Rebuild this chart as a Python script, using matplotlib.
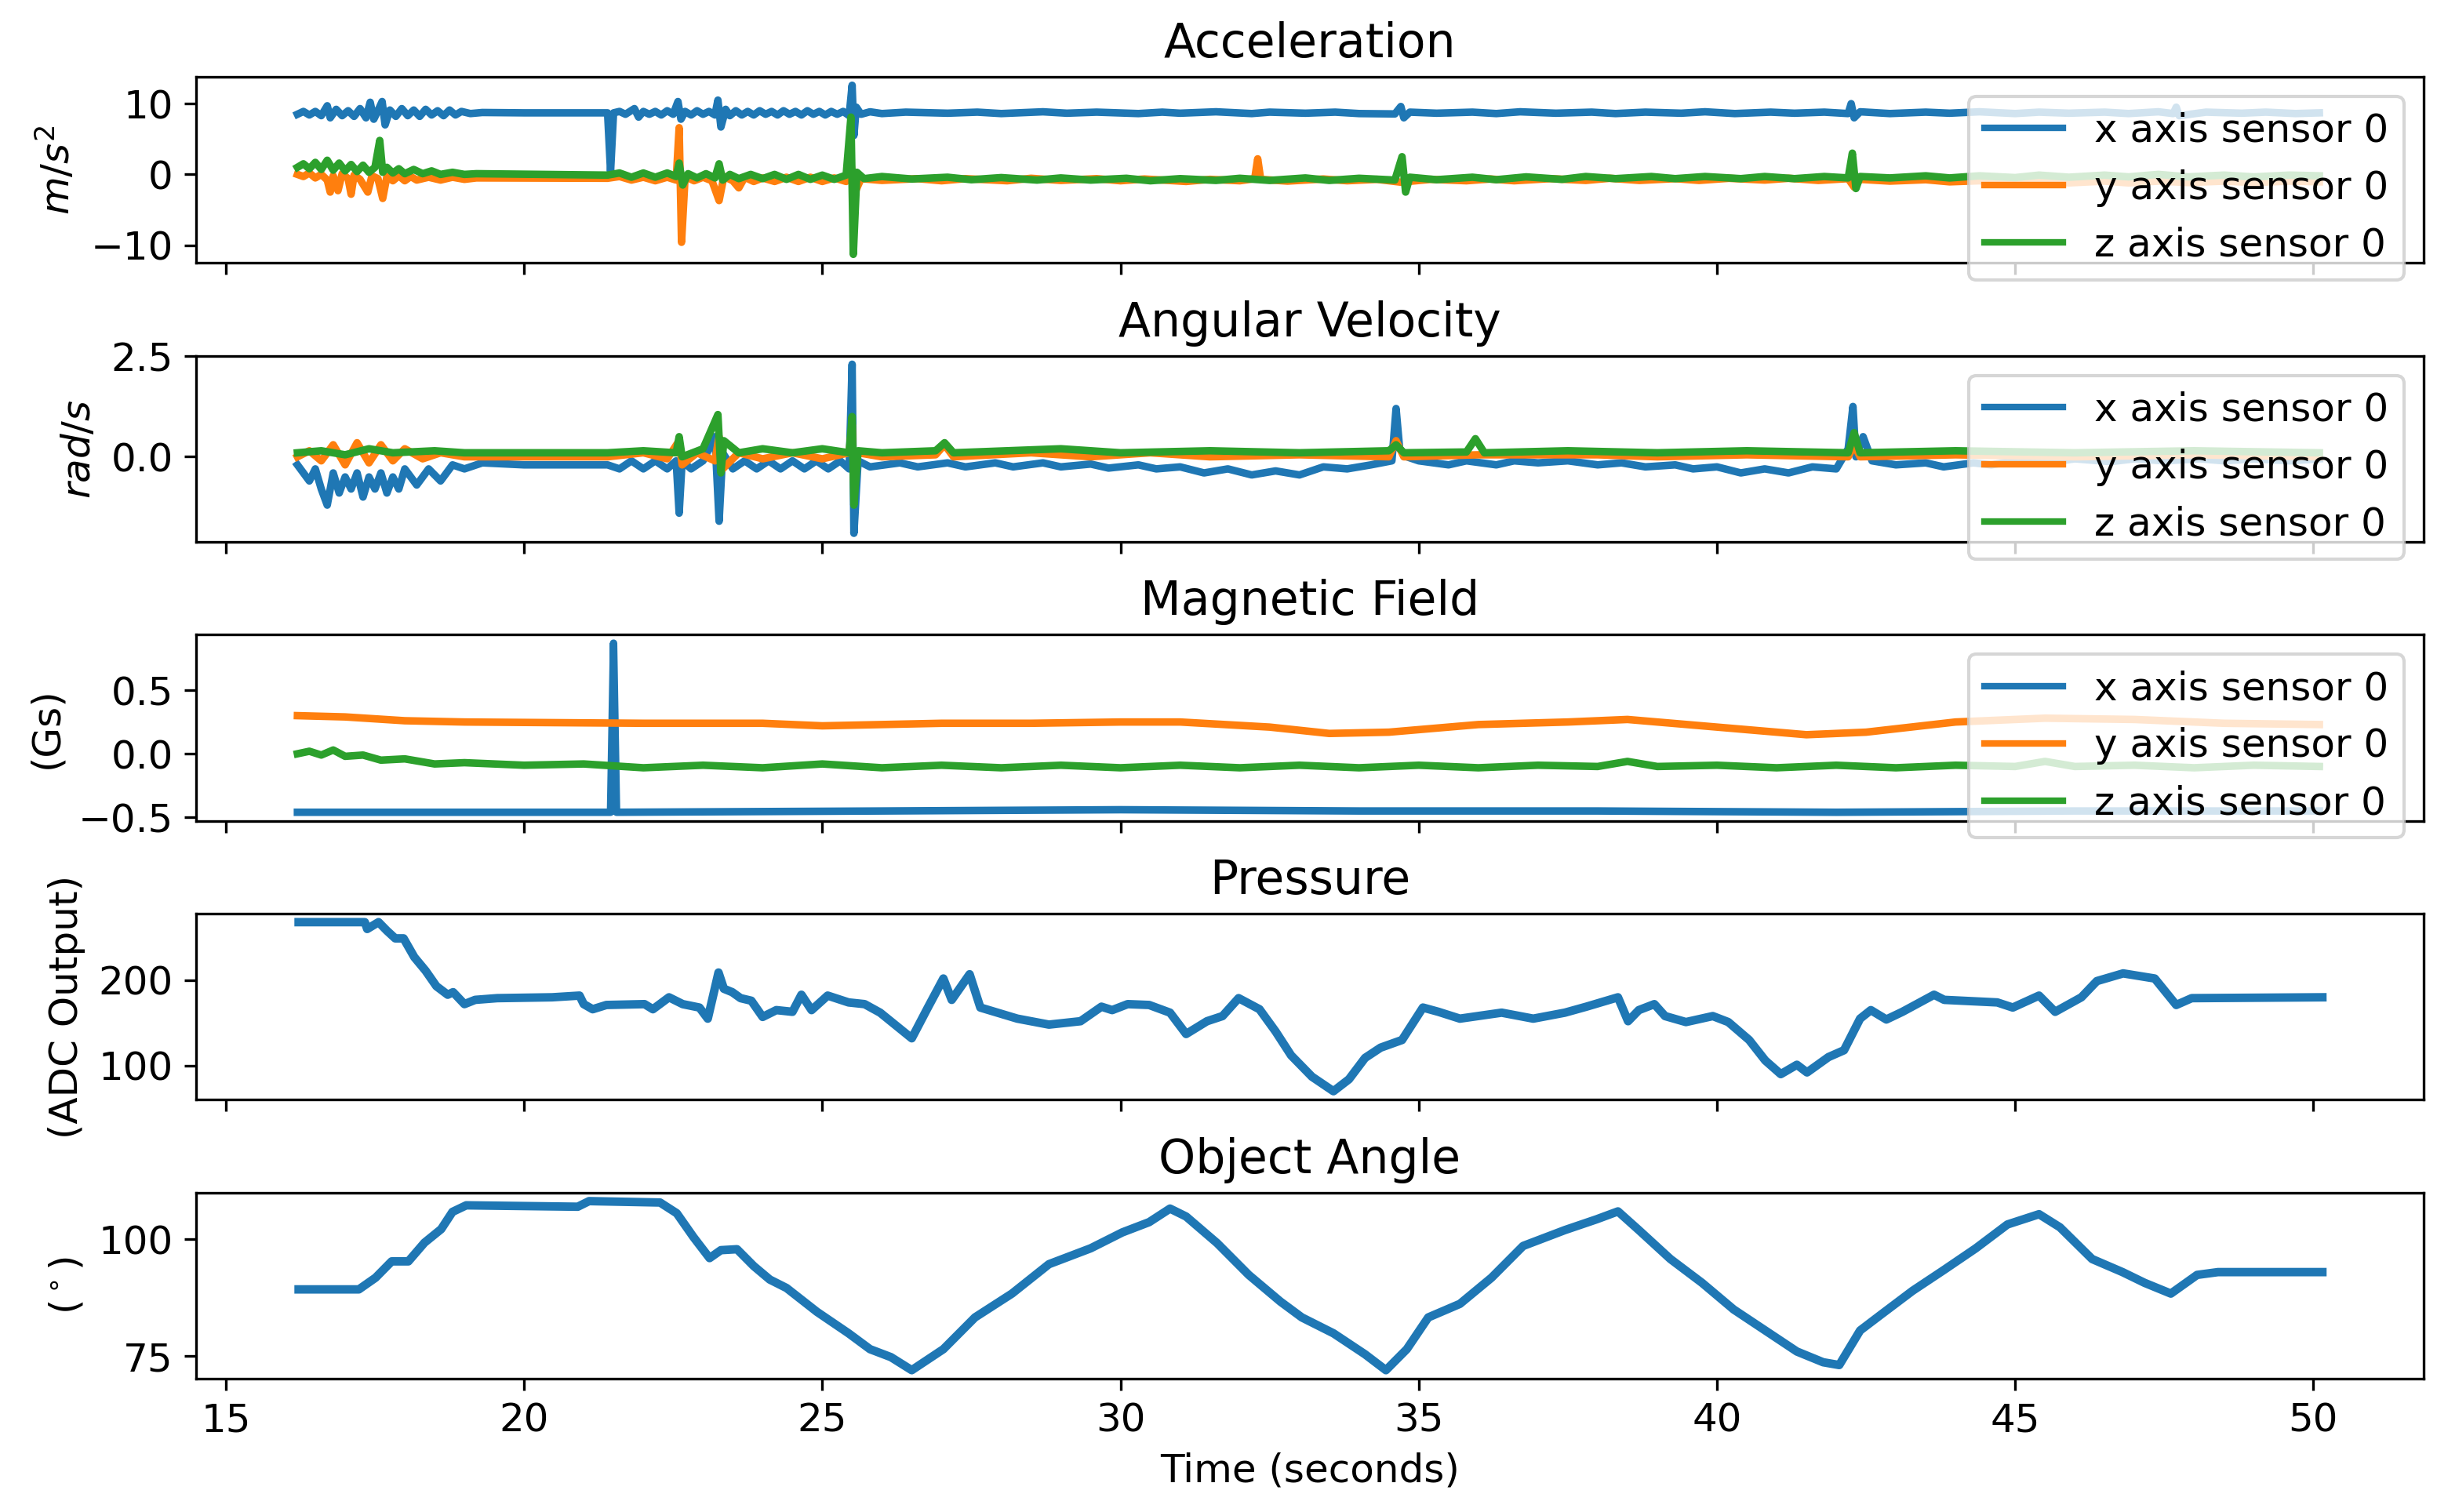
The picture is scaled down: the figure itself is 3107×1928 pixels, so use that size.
import matplotlib
matplotlib.use("Agg")
import matplotlib.pyplot as plt

plt.rcParams['font.size'] = 12

# ---------------- data ----------------
# Acceleration (m/s^2)
acc_x_t = [16.2, 16.3, 16.4, 16.5, 16.6, 16.7, 16.75, 16.85, 16.95, 17.05, 17.15, 17.25, 17.35, 17.42, 17.48,
           17.55, 17.62, 17.67, 17.75, 17.85, 17.95, 18.05, 18.15, 18.25, 18.35, 18.45, 18.55, 18.65, 18.75,
           18.85, 18.95, 19.1, 19.3, 20.0, 21.0, 21.4, 21.45, 21.5, 21.6, 21.7, 21.85, 21.92, 22.0, 22.1, 22.2,
           22.3, 22.4, 22.5, 22.58, 22.63, 22.7, 22.8, 22.9, 23.0, 23.1, 23.2, 23.25, 23.3, 23.38, 23.45, 23.55,
           23.65, 23.75, 23.85, 23.95, 24.05, 24.15, 24.25, 24.35, 24.45, 24.55, 24.65, 24.75, 24.85, 24.95,
           25.05, 25.15, 25.25, 25.35, 25.45, 25.5, 25.53, 25.57, 25.65, 25.8, 26.0, 26.4, 27.1, 27.6, 28.0,
           28.7, 29.1, 29.6, 30.3, 30.7, 31.0, 31.6, 32.2, 32.5, 33.1, 33.6, 34.0, 34.6, 34.7, 34.75, 34.85,
           35.3, 35.9, 36.3, 36.7, 37.3, 37.9, 38.3, 38.8, 39.4, 39.8, 40.3, 40.9, 41.3, 41.8, 42.2, 42.25,
           42.3, 42.4, 42.9, 43.5, 43.9, 44.4, 45.0, 45.4, 45.9, 46.5, 46.9, 47.4, 47.65, 47.7, 47.75, 48.2,
           48.8, 49.2, 49.7, 50.1]
acc_x_v = [8.5, 8.9, 8.4, 8.9, 8.3, 9.7, 8.0, 9.2, 8.3, 9.0, 8.2, 9.3, 8.0, 10.2, 7.8,
           9.0, 10.3, 7.0, 9.1, 8.2, 9.3, 8.3, 9.1, 8.2, 9.2, 8.4, 9.0, 8.3, 9.1,
           8.4, 8.9, 8.6, 8.75, 8.7, 8.7, 8.7, 0.4, 8.7, 8.9, 8.5, 9.3, 8.1, 8.9, 8.5, 8.9,
           8.4, 9.0, 8.5, 10.3, 7.8, 8.9, 8.4, 9.0, 8.5, 8.9, 8.4, 10.5, 6.7, 9.2, 8.3, 9.0,
           8.4, 8.9, 8.4, 9.0, 8.5, 8.9, 8.4, 9.0, 8.5, 8.9, 8.4, 9.0, 8.5, 8.9,
           8.4, 8.9, 8.5, 8.9, 8.3, 12.6, 5.5, 9.5, 8.5, 8.85, 8.6, 8.8, 8.65, 8.8, 8.6,
           8.85, 8.65, 8.8, 8.6, 8.8, 8.65, 8.85, 8.6, 8.8, 8.65, 8.8, 8.6, 8.55, 9.6, 8.0, 8.8,
           8.65, 8.8, 8.6, 8.85, 8.65, 8.8, 8.6, 8.8, 8.65, 8.85, 8.6, 8.8, 8.65, 8.8, 8.6, 10.0,
           8.0, 8.85, 8.6, 8.8, 8.65, 8.85, 8.6, 8.8, 8.65, 8.8, 8.6, 8.85, 8.6, 9.5,
           8.3, 8.8, 8.65, 8.8, 8.6, 8.7]
acc_y_t = [16.2, 16.3, 16.4, 16.5, 16.6, 16.7, 16.75, 16.8, 16.88, 16.95, 17.05, 17.1, 17.15, 17.25, 17.38,
           17.45, 17.55, 17.63, 17.7, 17.8, 17.9, 18.0, 18.1, 18.2, 18.4, 18.6, 18.8, 19.0, 19.2, 21.4, 21.6,
           21.8, 22.0, 22.2, 22.4, 22.55, 22.6, 22.64, 22.7, 22.85, 23.0, 23.15, 23.27, 23.35, 23.5, 23.6, 23.7,
           23.85, 24.0, 24.2, 24.4, 24.6, 24.8, 25.0, 25.2, 25.4, 25.48, 25.55, 25.65, 26.0, 26.6, 27.0, 27.4,
           28.1, 28.5, 29.0, 29.6, 30.0, 30.4, 31.1, 31.5, 32.0, 32.25, 32.3, 32.35, 32.8, 33.4, 33.8, 34.3,
           34.7, 35.2, 35.8, 36.2, 36.6, 37.2, 37.8, 38.2, 38.7, 39.3, 39.7, 40.2, 40.8, 41.2, 41.7, 42.2,
           42.3, 42.4, 42.9, 43.5, 43.9, 44.4, 45.0, 45.4, 45.9, 46.5, 46.9, 47.4, 47.9, 48.5, 49.0, 49.6, 50.1]
acc_y_v = [0.0, -0.3, 0.2, -0.5, 0.0, -0.8, -2.5, -0.2, -2.3, 0.1, -0.6, -2.8, -0.1, -0.7, -2.5,
           -0.2, -0.6, -3.4, -0.3, -0.9, -0.2, -0.9, -0.3, -0.8, -0.4, -0.8, -0.4, -0.7, -0.5, -0.55, -0.3,
           -0.8, -0.4, -0.9, -0.4, -0.8, 6.6, -9.6, -0.3, -0.9, -0.4, -0.9, -3.7, -0.3, -0.9, -1.9, -0.4,
           -1.0, -0.5, -1.0, -0.4, -1.0, -0.4, -1.0, -0.5, -1.0, 1.5, -2.5, -0.6, -0.85, -0.6, -0.9, -0.6,
           -0.9, -0.55, -0.85, -0.6, -0.9, -0.65, -1.0, -0.7, -0.9, -0.6, 2.2, -0.7, -0.95, -0.65, -0.9, -0.7,
           -1.1, -0.7, -0.9, -0.65, -0.9, -0.6, -0.85, -0.55, -0.85, -0.6, -0.85, -0.55, -0.8, -0.55, -0.85, -0.6,
           -1.8, -0.7, -0.95, -0.75, -1.05, -0.9, -1.15, -0.95, -1.2, -0.95, -1.2, -0.95, -1.15, -0.95, -1.15, -0.95, -1.05]
acc_z_t = [16.2, 16.3, 16.4, 16.5, 16.6, 16.7, 16.8, 16.9, 17.0, 17.1, 17.2, 17.3, 17.4, 17.5, 17.58, 17.63,
           17.7, 17.8, 17.9, 18.0, 18.15, 18.3, 18.45, 18.6, 18.8, 19.0, 19.2, 21.4, 21.6, 21.8, 22.0, 22.2,
           22.4, 22.55, 22.6, 22.66, 22.75, 22.9, 23.05, 23.2, 23.27, 23.33, 23.45, 23.6, 23.8, 24.0, 24.2,
           24.4, 24.6, 24.8, 25.0, 25.2, 25.4, 25.48, 25.52, 25.58, 25.7, 26.0, 26.5, 27.1, 27.5, 28.0, 28.6,
           29.0, 29.5, 30.1, 30.5, 31.0, 31.6, 32.0, 32.5, 33.1, 33.5, 34.0, 34.6, 34.72, 34.78, 34.85, 35.3,
           35.9, 36.3, 36.8, 37.4, 37.8, 38.3, 38.9, 39.3, 39.8, 40.4, 40.8, 41.3, 41.8, 42.2, 42.27, 42.33,
           42.4, 42.9, 43.5, 43.9, 44.4, 45.0, 45.4, 45.9, 46.5, 46.9, 47.4, 47.9, 48.5, 49.0, 49.6, 50.1]
acc_z_v = [1.0, 1.5, 0.8, 1.7, 0.7, 2.0, 0.6, 1.6, 0.5, 1.4, 0.4, 1.3, 0.3, 1.0, 4.8, 0.3,
           1.0, 0.2, 0.8, 0.1, 0.7, 0.1, 0.5, 0.0, 0.3, 0.0, 0.1, -0.1, 0.2, -0.4, 0.2, -0.4,
           0.2, -0.3, 1.6, -1.5, 0.1, -0.5, 0.1, -0.5, 1.5, -0.8, 0.0, -0.6, 0.0, -0.6, 0.0,
           -0.7, 0.0, -0.7, -0.1, -0.7, -0.1, 8.1, -11.3, 0.3, -0.6, -0.3, -0.65, -0.4, -0.75, -0.45, -0.8,
           -0.5, -0.8, -0.55, -0.9, -0.6, -0.85, -0.55, -0.85, -0.5, -0.85, -0.55, -0.8, 2.5, -2.5, -0.4, -0.75,
           -0.4, -0.75, -0.35, -0.7, -0.3, -0.6, -0.3, -0.6, -0.3, -0.6, -0.3, -0.6, -0.3, -0.5, 3.0, -2.0,
           -0.3, -0.5, -0.2, -0.5, -0.2, -0.45, -0.1, -0.4, -0.1, -0.35, 0.0, -0.35, -0.1, -0.35, -0.1, -0.2]

# Angular velocity (rad/s)
gyr_x_t = [16.2, 16.3, 16.4, 16.5, 16.6, 16.7, 16.8, 16.9, 17.0, 17.1, 17.2, 17.3, 17.4, 17.5, 17.6, 17.7,
           17.8, 17.9, 18.0, 18.2, 18.4, 18.6, 18.8, 19.0, 19.3, 20.0, 21.0, 21.4, 21.6, 21.8, 22.0, 22.2, 22.4,
           22.55, 22.6, 22.65, 22.8, 23.0, 23.2, 23.27, 23.33, 23.5, 23.7, 23.9, 24.1, 24.3, 24.5, 24.7, 24.9,
           25.1, 25.3, 25.45, 25.5, 25.53, 25.6, 25.8, 26.3, 26.6, 27.1, 27.4, 27.9, 28.2, 28.7, 29.0, 29.5,
           29.8, 30.3, 30.6, 31.0, 31.4, 31.8, 32.2, 32.6, 33.0, 33.4, 33.8, 34.2, 34.55, 34.62, 34.68, 34.8,
           35.0, 35.5, 35.8, 36.3, 36.6, 37.0, 37.5, 38.0, 38.4, 38.8, 39.3, 39.6, 40.0, 40.4, 40.8, 41.2, 41.6,
           42.0, 42.2, 42.28, 42.33, 42.45, 42.6, 43.0, 43.5, 43.8, 44.3, 44.6, 45.0, 45.5, 46.0, 46.6, 47.0,
           47.5, 48.1, 48.5, 49.0, 49.6, 50.1]
gyr_x_v = [-0.2, -0.4, -0.6, -0.3, -0.8, -1.2, -0.4, -0.9, -0.5, -0.8, -0.4, -1.0, -0.5, -0.8, -0.4, -0.9,
           -0.5, -0.8, -0.3, -0.7, -0.3, -0.6, -0.2, -0.3, -0.15, -0.2, -0.2, -0.2, -0.3, -0.1, -0.3, -0.1, -0.3,
           -0.1, -1.4, -0.1, -0.3, -0.1, 0.5, -1.6, 0.1, -0.3, -0.1, -0.3, -0.1, -0.3, -0.1, -0.3, -0.1,
           -0.3, -0.1, -0.3, 2.3, -1.9, -0.1, -0.25, -0.15, -0.25, -0.15, -0.25, -0.15, -0.25, -0.15, -0.25, -0.18,
           -0.28, -0.2, -0.3, -0.25, -0.4, -0.3, -0.45, -0.35, -0.45, -0.25, -0.3, -0.2, -0.1, 1.2, 0.2, 0.0,
           -0.1, -0.2, -0.1, -0.2, -0.1, -0.15, -0.1, -0.2, -0.15, -0.25, -0.2, -0.3, -0.25, -0.4, -0.3, -0.4, -0.25,
           -0.3, 0.2, 1.25, 0.0, 0.5, -0.1, -0.2, -0.15, -0.25, -0.15, -0.2, -0.1, -0.15, -0.05, -0.12, -0.05,
           -0.1, -0.05, -0.1, -0.05, -0.1, -0.05]
gyr_y_t = [16.2, 16.4, 16.6, 16.8, 17.0, 17.2, 17.4, 17.6, 17.8, 18.0, 18.3, 18.6, 19.0, 21.4, 22.0, 22.4,
           22.6, 22.65, 22.9, 23.2, 23.27, 23.33, 23.6, 24.0, 24.5, 25.0, 25.45, 25.5, 25.53, 25.6, 26.0, 26.9,
           27.05, 27.2, 28.5, 29.5, 30.5, 31.5, 33.0, 34.5, 34.62, 34.75, 36.0, 38.0, 39.0, 40.5, 42.2, 42.3, 42.4,
           44.0, 46.0, 48.0, 50.1]
gyr_y_v = [0.0, 0.15, -0.1, 0.3, -0.2, 0.35, -0.15, 0.3, -0.1, 0.2, -0.05, 0.1, 0.0, 0.0, 0.1, -0.05,
           0.4, -0.2, 0.1, -0.1, 0.5, -0.3, 0.1, -0.05, 0.1, -0.05, 0.1, 0.8, -0.6, 0.1, 0.0, 0.05,
           0.3, 0.0, 0.1, 0.0, 0.1, 0.0, 0.05, 0.0, 0.4, 0.0, 0.05, 0.05, 0.0, 0.05, 0.0, 0.3, 0.0,
           0.05, 0.0, 0.05, 0.0]
gyr_z_t = [16.2, 16.6, 17.0, 17.4, 17.8, 18.5, 19.0, 21.4, 22.0, 22.55, 22.6, 22.65, 23.0, 23.25, 23.3, 23.35,
           23.6, 24.0, 24.5, 25.0, 25.45, 25.5, 25.53, 25.6, 26.0, 26.9, 27.05, 27.2, 29.0, 30.0, 31.5, 33.0,
           34.5, 34.62, 34.75, 35.8, 35.95, 36.1, 37.5, 39.0, 40.5, 42.2, 42.3, 42.4, 44.0, 46.0, 48.0, 50.1]
gyr_z_v = [0.1, 0.15, 0.05, 0.2, 0.1, 0.15, 0.1, 0.1, 0.15, 0.1, 0.5, 0.0, 0.2, 1.05, -0.4, 0.4,
           0.1, 0.2, 0.1, 0.2, 0.1, 1.0, -1.2, 0.15, 0.1, 0.15, 0.35, 0.1, 0.2, 0.1, 0.15, 0.1,
           0.15, 0.3, 0.1, 0.12, 0.45, 0.1, 0.15, 0.1, 0.15, 0.1, 0.6, 0.1, 0.15, 0.1, 0.15, 0.1]

# Magnetic field (Gs)
mag_x_t = [16.2, 21.45, 21.5, 21.55, 26.0, 30.0, 34.0, 38.0, 42.0, 46.0, 50.1]
mag_x_v = [-0.46, -0.46, 0.87, -0.46, -0.45, -0.44, -0.45, -0.45, -0.46, -0.45, -0.45]
mag_y_t = [16.2, 17.0, 18.0, 19.0, 22.0, 24.0, 25.0, 27.0, 28.5, 30.0, 31.0, 32.5, 33.5, 34.5, 36.0, 37.5,
           38.5, 40.0, 41.5, 42.5, 44.0, 45.5, 47.0, 48.5, 50.1]
mag_y_v = [0.30, 0.29, 0.26, 0.25, 0.24, 0.24, 0.22, 0.24, 0.24, 0.25, 0.25, 0.21, 0.16, 0.17, 0.23, 0.25,
           0.27, 0.21, 0.15, 0.17, 0.25, 0.28, 0.27, 0.24, 0.23]
mag_z_t = [16.2, 16.4, 16.6, 16.8, 17.0, 17.3, 17.6, 18.0, 18.5, 19.0, 20.0, 21.0, 22.0, 23.0, 24.0, 25.0,
           26.0, 27.0, 28.0, 29.0, 30.0, 31.0, 32.0, 33.0, 34.0, 35.0, 36.0, 37.0, 38.0, 38.5, 39.0, 40.0,
           41.0, 42.0, 43.0, 44.0, 45.0, 45.5, 46.0, 47.0, 48.0, 49.0, 50.1]
mag_z_v = [0.0, 0.02, -0.01, 0.03, -0.02, -0.01, -0.05, -0.04, -0.08, -0.07, -0.09, -0.08, -0.11, -0.09, -0.11, -0.08,
           -0.11, -0.09, -0.11, -0.09, -0.11, -0.09, -0.11, -0.09, -0.11, -0.09, -0.11, -0.09, -0.1, -0.06, -0.1, -0.09,
           -0.11, -0.09, -0.11, -0.09, -0.1, -0.06, -0.1, -0.09, -0.11, -0.09, -0.1]

# Pressure (ADC output)
prs_t = [16.22, 17.33, 17.37, 17.56, 17.7, 17.84, 17.98, 18.16, 18.35, 18.53, 18.72, 18.81, 19.0, 19.18, 19.55,
         20.47, 20.93, 21.0, 21.15, 21.38, 22.02, 22.16, 22.43, 22.66, 22.94, 23.08, 23.26, 23.35, 23.49, 23.63,
         23.81, 24.0, 24.23, 24.5, 24.65, 24.82, 25.09, 25.44, 25.71, 25.97, 26.5, 26.77, 27.03, 27.17, 27.47,
         27.65, 28.27, 28.8, 29.33, 29.68, 29.86, 30.12, 30.48, 30.83, 31.1, 31.45, 31.71, 31.98, 32.33, 32.6,
         32.86, 33.21, 33.57, 33.83, 34.1, 34.36, 34.72, 35.07, 35.33, 35.69, 36.39, 36.92, 37.45, 37.81, 38.34,
         38.51, 38.69, 38.95, 39.13, 39.48, 39.93, 40.19, 40.54, 40.81, 41.07, 41.34, 41.51, 41.87, 42.13, 42.4,
         42.58, 42.84, 43.11, 43.64, 43.81, 44.7, 44.96, 45.4, 45.67, 46.11, 46.37, 46.81, 47.34, 47.7, 47.96, 50.15]
prs_v = [268, 268, 260, 268, 258, 249, 249, 227, 211, 193, 183, 186, 172, 177, 179,
         180, 182, 172, 166, 171, 172, 166, 180, 172, 168, 155, 209, 190, 186, 179,
         176, 157, 165, 163, 183, 165, 182, 174, 172, 162, 132, 168, 202, 177, 207,
         168, 155, 148, 152, 169, 165, 172, 171, 162, 137, 152, 158, 179, 166, 140,
         112, 87, 70, 84, 109, 121, 130, 168, 163, 155, 162, 155, 162, 169, 180,
         152, 165, 172, 158, 151, 158, 151, 130, 106, 90, 101, 92, 110, 118, 155,
         165, 154, 163, 183, 177, 174, 168, 182, 163, 180, 199, 208, 202, 171, 179, 180]

# Object angle (degrees)
ang_t = [16.22, 17.23, 17.51, 17.78, 18.06, 18.33, 18.61, 18.8, 19.03, 20.9, 21.09, 22.28, 22.56, 22.84, 23.11,
         23.3, 23.57, 23.85, 24.12, 24.4, 24.91, 25.44, 25.8, 26.15, 26.5, 27.03, 27.56, 28.18, 28.8, 29.5, 30.03,
         30.48, 30.83, 31.1, 31.62, 32.15, 32.68, 33.04, 33.57, 34.1, 34.45, 34.8, 35.16, 35.69, 36.22, 36.75,
         37.45, 37.98, 38.34, 38.69, 39.22, 39.75, 40.28, 40.81, 41.34, 41.78, 42.05, 42.4, 42.75, 43.28, 43.81,
         44.34, 44.87, 45.4, 45.75, 46.29, 46.8, 47.17, 47.61, 48.05, 48.4, 50.15]
ang_v = [89.3, 89.3, 91.8, 95.3, 95.3, 99.3, 102.2, 105.9, 107.3, 107.0, 108.2, 107.9, 105.6, 100.5, 96.0,
         97.7, 97.9, 94.3, 91.4, 89.6, 84.5, 79.9, 76.5, 74.8, 72.0, 76.5, 83.3, 88.4, 94.7, 98.1, 101.5,
         103.7, 106.6, 104.9, 99.2, 92.4, 86.7, 83.3, 79.9, 75.4, 72.0, 76.5, 83.3, 86.2, 91.8, 98.6,
         102.0, 104.3, 106.0, 102.0, 95.8, 90.7, 85.0, 80.5, 76.0, 73.7, 73.1, 80.5, 83.9, 89.0, 93.5,
         98.1, 103.2, 105.4, 102.6, 95.8, 93.0, 90.7, 88.4, 92.4, 93.0, 93.0]

labels = ['x axis sensor 0', 'y axis sensor 0', 'z axis sensor 0']
LW3 = 2.3   # three-series panels (noisy bands)
LW1 = 2.6   # single-series panels

fig, axes = plt.subplots(5, 1, sharex=True, figsize=(3107 / 300, 1928 / 300), dpi=300)
fig.subplots_adjust(left=0.0805, right=0.9945, top=0.9492, bottom=0.0882, hspace=0.5)


def add_legend(ax):
    leg = ax.legend(loc='upper right')
    for h in leg.get_lines():
        h.set_linewidth(2.0)


ax = axes[0]
ax.plot(acc_x_t, acc_x_v, lw=LW3, label=labels[0])
ax.plot(acc_y_t, acc_y_v, lw=LW3, label=labels[1])
ax.plot(acc_z_t, acc_z_v, lw=LW3, label=labels[2])
ax.set_title('Acceleration')
ax.set_ylabel('$m/s^2$')
add_legend(ax)

ax = axes[1]
ax.plot(gyr_x_t, gyr_x_v, lw=LW3, label=labels[0])
ax.plot(gyr_y_t, gyr_y_v, lw=LW3, label=labels[1])
ax.plot(gyr_z_t, gyr_z_v, lw=LW3, label=labels[2])
ax.set_title('Angular Velocity')
ax.set_ylabel('$rad/s$')
add_legend(ax)

ax = axes[2]
ax.plot(mag_x_t, mag_x_v, lw=LW3, label=labels[0])
ax.plot(mag_y_t, mag_y_v, lw=LW3, label=labels[1])
ax.plot(mag_z_t, mag_z_v, lw=LW3, label=labels[2])
ax.set_title('Magnetic Field')
ax.set_ylabel('(Gs)')
add_legend(ax)

ax = axes[3]
ax.plot(prs_t, prs_v, lw=LW1)
ax.set_title('Pressure')
ax.set_ylabel('(ADC Output)')

ax = axes[4]
ax.plot(ang_t, ang_v, lw=LW1)
ax.set_title('Object Angle')
ax.set_ylabel('$(^\\circ)$')
ax.set_xlabel('Time (seconds)')
ax.set_yticks([75, 100])

fig.savefig('out.png', dpi=300)
